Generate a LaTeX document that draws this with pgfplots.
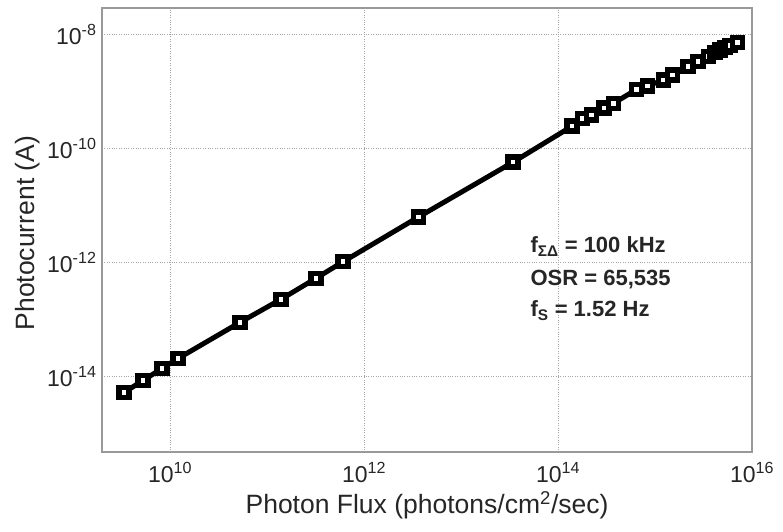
\documentclass[border=0pt]{standalone}
\usepackage{pgfplots}
\pgfplotsset{compat=1.18}
\usepackage{fontspec}
\setmainfont{Liberation Sans}
\definecolor{axgray}{gray}{0.6}
\definecolor{txt}{gray}{0.15}
\begin{document}
\begin{tikzpicture}
\begin{loglogaxis}[
  scale only axis,
  width=650pt, height=444pt,
  xmin=1.99e9, xmax=1e16,
  ymin=4.8e-16, ymax=2.88e-8,
  xtick={1e10,1e12,1e14,1e16},
  xticklabels={10\textsuperscript{10},10\textsuperscript{12},10\textsuperscript{14},10\textsuperscript{16}},
  ytick={1e-14,1e-12,1e-10,1e-8},
  yticklabels={10\textsuperscript{-14},10\textsuperscript{-12},10\textsuperscript{-10},10\textsuperscript{-8}},
  minor tick num=0,
  major tick length=0pt,
  axis line style={axgray, line width=1.2pt},
  grid=major,
  major grid style={gray!70, dotted, line width=0.8pt},
  tick label style={font=\fontsize{23}{26}\selectfont, text=txt},
  xticklabel style={yshift=-7pt},
  yticklabel style={xshift=-2pt},
  label style={font=\fontsize{26.5}{30}\selectfont, text=txt},
  xlabel={Photon Flux (photons/cm\textsuperscript{2}/sec)},
  ylabel={Photocurrent (A)},
  xlabel style={yshift=-2pt},
  ylabel style={at={(axis description cs:-0.1046,0.493)}, anchor=base, inner sep=0pt},
  clip=false,
]
\addplot[black, line width=5pt, mark=square*, mark size=5pt,
  mark options={fill=white, draw=black, line width=5.5pt, solid}] coordinates {
(3.36e9,5.31e-15)
(5.27e9,8.61e-15)
(8.28e9,1.40e-14)
(1.21e10,2.09e-14)
(5.27e10,8.97e-14)
(1.39e11,2.27e-13)
(3.20e11,5.31e-13)
(6.08e11,1.035e-12)
(3.66e12,6.31e-12)
(3.44e13,5.75e-11)
(1.40e14,2.46e-10)
(1.78e14,3.36e-10)
(2.22e14,3.88e-10)
(2.98e14,5.15e-10)
(3.72e14,6.15e-10)
(6.47e14,1.08e-9)
(8.32e14,1.24e-9)
(1.22e15,1.58e-9)
(1.52e15,1.93e-9)
(2.20e15,2.70e-9)
(2.79e15,3.30e-9)
(3.54e15,4.05e-9)
(4.16e15,4.75e-9)
(4.68e15,5.31e-9)
(5.27e15,5.82e-9)
(5.93e15,6.31e-9)
(7.06e15,7.13e-9)
};
\node[anchor=base west, font=\fontsize{22}{24}\selectfont\bfseries, text=txt, inner sep=0pt] at (rel axis cs:0.659,0.449) {f\textsubscript{ΣΔ} = 100 kHz};
\node[anchor=base west, font=\fontsize{22}{24}\selectfont\bfseries, text=txt, inner sep=0pt] at (rel axis cs:0.659,0.376) {OSR = 65,535};
\node[anchor=base west, font=\fontsize{22}{24}\selectfont\bfseries, text=txt, inner sep=0pt] at (rel axis cs:0.659,0.305) {f\textsubscript{S} = 1.52 Hz};
\end{loglogaxis}
\path (current axis.south west) ++(-102pt,-79pt) rectangle ++(783pt,531pt);
\end{tikzpicture}
\end{document}
